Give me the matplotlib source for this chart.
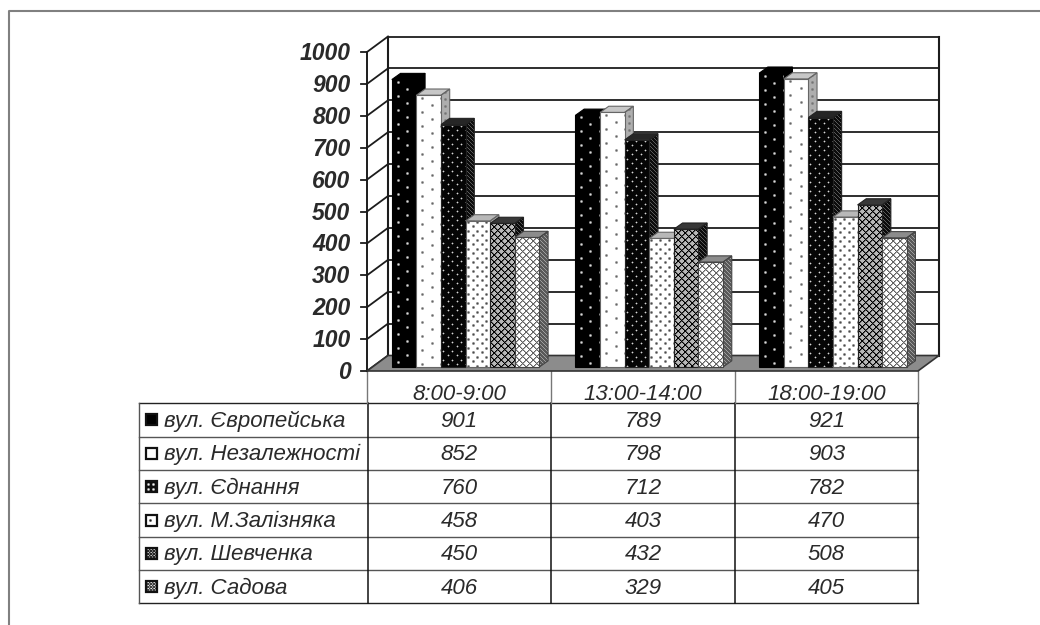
import numpy as np
import matplotlib
matplotlib.use("Agg")
import matplotlib.pyplot as plt
from matplotlib.patches import Polygon, Rectangle

periods = ["8:00-9:00", "13:00-14:00", "18:00-19:00"]
streets = ["вул. Європейська", "вул. Незалежності", "вул. Єднання",
           "вул. М.Залізняка", "вул. Шевченка", "вул. Садова"]
evropeiska = [901, 789, 921]
nezalezhnosti = [852, 798, 903]
yednannia = [760, 712, 782]
zalizniaka = [458, 403, 470]
shevchenka = [450, 432, 508]
sadova = [406, 329, 405]
series = [evropeiska, nezalezhnosti, yednannia, zalizniaka, shevchenka, sadova]
y_ticks = list(range(0, 1001, 100))

W, H = 1040, 625
FONT = "Liberation Sans"
TEXT = "#2a2a2a"


def dots(w, h, pts, bg, fg, wide=True):
    t = np.full((h, w), bg, float)
    for x, y in pts:
        t[y % h, x % w] = fg
        for dx, dy in ((1, 0), (0, 1), (-1, 0), (0, -1)):
            t[(y + dy) % h, (x + dx) % w] = (bg + fg * 2) / 3 if wide else (bg * 2 + fg) / 3
        if wide:
            for dx, dy in ((1, 1), (1, -1), (-1, 1), (-1, -1)):
                t[(y + dy) % h, (x + dx) % w] = (bg * 2 + fg) / 3
    return t


def lattice(n, bg, fg):
    t = np.full((n, n), bg, float)
    half = (bg + fg) / 2
    for i in range(n):
        t[i, (i + 1) % n] = half
        t[i, (n - i + 1) % n] = half
    for i in range(n):
        t[i, i] = fg
        t[i, (n - i) % n] = fg
    return t


def stripes(n, bg, fg):
    t = np.full((n, n), bg, float)
    for i in range(n):
        t[i, i] = fg
    return t


front = [dots(19, 14, [(6, 3), (15, 10)], 0.0, 0.85),
         dots(19, 14, [(6, 3), (16, 10)], 1.0, 0.4),
         dots(9, 9, [(2, 2), (7, 6)], 0.02, 0.85, wide=False),
         dots(9, 9, [(2, 2), (7, 6)], 1.0, 0.3),
         lattice(7, 0.72, 0.0),
         lattice(7, 1.0, 0.38)]
side = [np.array([[0.0]]),
        dots(19, 14, [(4, 3), (4, 10)], 0.68, 0.45),
        stripes(4, 0.05, 0.35),
        np.array([[0.68]]),
        stripes(4, 0.05, 0.35),
        stripes(4, 0.35, 0.62)]
top = [np.array([[0.0]]), np.array([[0.78]]), np.array([[0.15]]),
       np.array([[0.72]]), np.array([[0.22]]), np.array([[0.55]])]
edge = ["#000000", "#666666", "#222222", "#666666", "#222222", "#444444"]

# key swatches
key = [np.array([[0.0]]),
       np.array([[1.0]]),
       dots(5, 5, [(2, 2)], 0.05, 0.95),
       dots(9, 9, [(4, 5)], 1.0, 0.1),
       lattice(3, 0.75, 0.15),
       lattice(3, 0.9, 0.25)]

fig = plt.figure(figsize=(W / 100, H / 100), dpi=100, facecolor="white")

# page overlay in pixels
pg = fig.add_axes([0, 0, 1, 1])
pg.set_xlim(0, W)
pg.set_ylim(H, 0)
pg.axis("off")
pg.autoscale(False)

# chart axes: x in categories, y in values
L, R, Y0, Y1 = 367.0, 918.0, 371.0, 52.0
ax = fig.add_axes([L / W, 1 - Y0 / H, (R - L) / W, (Y0 - Y1) / H])
ax.set_xlim(0, 3)
ax.set_ylim(0, 1000)
ax.axis("off")
ax.autoscale(False)
ax.patch.set_alpha(0)

px_x = 3 / (R - L)
px_y = 1000 / (Y0 - Y1)
DX, DY = 21 * px_x, 15.5 * px_y     # wall depth
BAR_W = 24.6 * px_x
BAR_PAD = 24.8 * px_x
BASE = 4 * px_y
SX, SY = 8.7 * px_x, 6.2 * px_y     # bar depth
GRID = "#1c1c1c"
NOCLIP = dict(clip_on=False)


def fill(a, verts, tile, z, ec=None, lw=0.8):
    """Paint a polygon with a repeating pixel tile."""
    poly = Polygon(verts, closed=True, facecolor="none",
                   edgecolor=ec if ec else "none", linewidth=lw, zorder=z + 0.1, clip_on=False)
    a.add_patch(poly)
    disp = a.transData.transform(verts)
    x0, y0 = disp.min(axis=0)
    x1, y1 = disp.max(axis=0)
    nx, ny = max(int(np.ceil(x1 - x0)), 1), max(int(np.ceil(y1 - y0)), 1)
    th, tw = tile.shape
    arr = np.tile(tile, (ny // th + 1, nx // tw + 1))[:ny, :nx]
    inv = a.transData.inverted()
    (ex0, ey0), (ex1, ey1) = inv.transform([(x0, y0), (x0 + nx, y0 + ny)])
    top_down = ey1 > ey0
    im = a.imshow(arr, cmap="gray", vmin=0, vmax=1, aspect="auto", interpolation="nearest",
                  extent=(ex0, ex1, ey0, ey1) if top_down else (ex0, ex1, ey1, ey0),
                  origin="upper", zorder=z)
    clip = Polygon(verts, closed=True, transform=a.transData)
    im.set_clip_path(clip)
    im.set_clip_on(True)


# walls and grid
ax.add_patch(Polygon([(0, 0), (DX, DY), (3 + DX, DY), (3, 0)], closed=True,
                     facecolor="#8c8c8c", edgecolor="#333333", linewidth=1.2, zorder=2, clip_on=False))
for v in y_ticks[1:]:
    ax.plot([DX, 3 + DX], [v + DY, v + DY], color=GRID, lw=1.3, zorder=1, **NOCLIP)
for v in y_ticks:
    ax.plot([0, DX], [v, v + DY], color=GRID, lw=1.3, zorder=1, **NOCLIP)
    ax.plot([-6 * px_x, 0], [v, v], color=GRID, lw=1.3, zorder=1, **NOCLIP)
    ax.text(-16.5 * px_x, v - 1.5 * px_y, str(v), ha="right", va="center", fontsize=16.5, family=FONT,
            weight="bold", style="italic", color=TEXT, clip_on=False)
ax.plot([0, 0], [0, 1000], color=GRID, lw=1.4, zorder=1, **NOCLIP)
ax.plot([DX, DX], [DY, 1000 + DY], color=GRID, lw=1.5, zorder=1, **NOCLIP)
ax.plot([3 + DX, 3 + DX], [DY, 1000 + DY], color=GRID, lw=1.5, zorder=1, **NOCLIP)

# bars
z = 3
for c in range(len(periods)):
    for s, vals in enumerate(series):
        x0 = c + BAR_PAD + s * BAR_W
        x1 = x0 + BAR_W
        y0, y1 = BASE, BASE + vals[c]
        fill(ax, [(x1, y0), (x1 + SX, y0 + SY), (x1 + SX, y1 + SY), (x1, y1)], side[s], z, edge[s])
        fill(ax, [(x0, y1), (x1, y1), (x1 + SX, y1 + SY), (x0 + SX, y1 + SY)], top[s], z, edge[s])
        fill(ax, [(x0, y0), (x1, y0), (x1, y1), (x0, y1)], front[s], z + 0.2, edge[s])
        z += 0.5

# table
ROW_TOP, ROW_H = 403.3, 33.35
COLS = [L, 551.0, 735.0, R]
KEY_X = 139.0
n = len(streets)
TBL_BOT = ROW_TOP + n * ROW_H
for i in range(n + 1):
    y = ROW_TOP + i * ROW_H
    pg.plot([KEY_X, R], [y, y], color="#222222" if i in (0, n) else "#555555", lw=1.0)
pg.plot([KEY_X, KEY_X], [ROW_TOP, TBL_BOT], color="#555555", lw=1.0)
for x in COLS:
    pg.plot([x + (1 if x == L else 0)] * 2, [ROW_TOP, TBL_BOT], color="#111111", lw=1.1)
    pg.plot([x, x], [Y0, ROW_TOP], color="#777777", lw=1.0)

tk = dict(ha="center", va="center", fontsize=16, family=FONT, style="italic", color=TEXT)
for c, label in enumerate(periods):
    cx = (COLS[c] + COLS[c + 1]) / 2
    pg.text(cx, (Y0 + ROW_TOP) / 2 + 7, label, **tk)
    for s, vals in enumerate(series):
        pg.text(cx, ROW_TOP + (s + 0.5) * ROW_H + 1.5, str(vals[c]), **tk)
for s, name in enumerate(streets):
    yc = ROW_TOP + (s + 0.5) * ROW_H
    pg.text(164, yc + 1.5, name, ha="left", va="center", fontsize=16, family=FONT,
            style="italic", color=TEXT)
    kx0, kx1, ky0, ky1 = 146.0, 157.0, yc - 5.5, yc + 5.5
    fill(pg, [(kx0, ky0), (kx1, ky0), (kx1, ky1), (kx0, ky1)], key[s], 5, "#111111", 1.6)

# page border
pg.plot([8.5, 8.5, W], [H, 10.5, 10.5], color="#808080", lw=1.5)

pg.set_xlim(0, W)
pg.set_ylim(H, 0)
ax.set_xlim(0, 3)
ax.set_ylim(0, 1000)
fig.savefig("out.png", dpi=100, facecolor="white")
